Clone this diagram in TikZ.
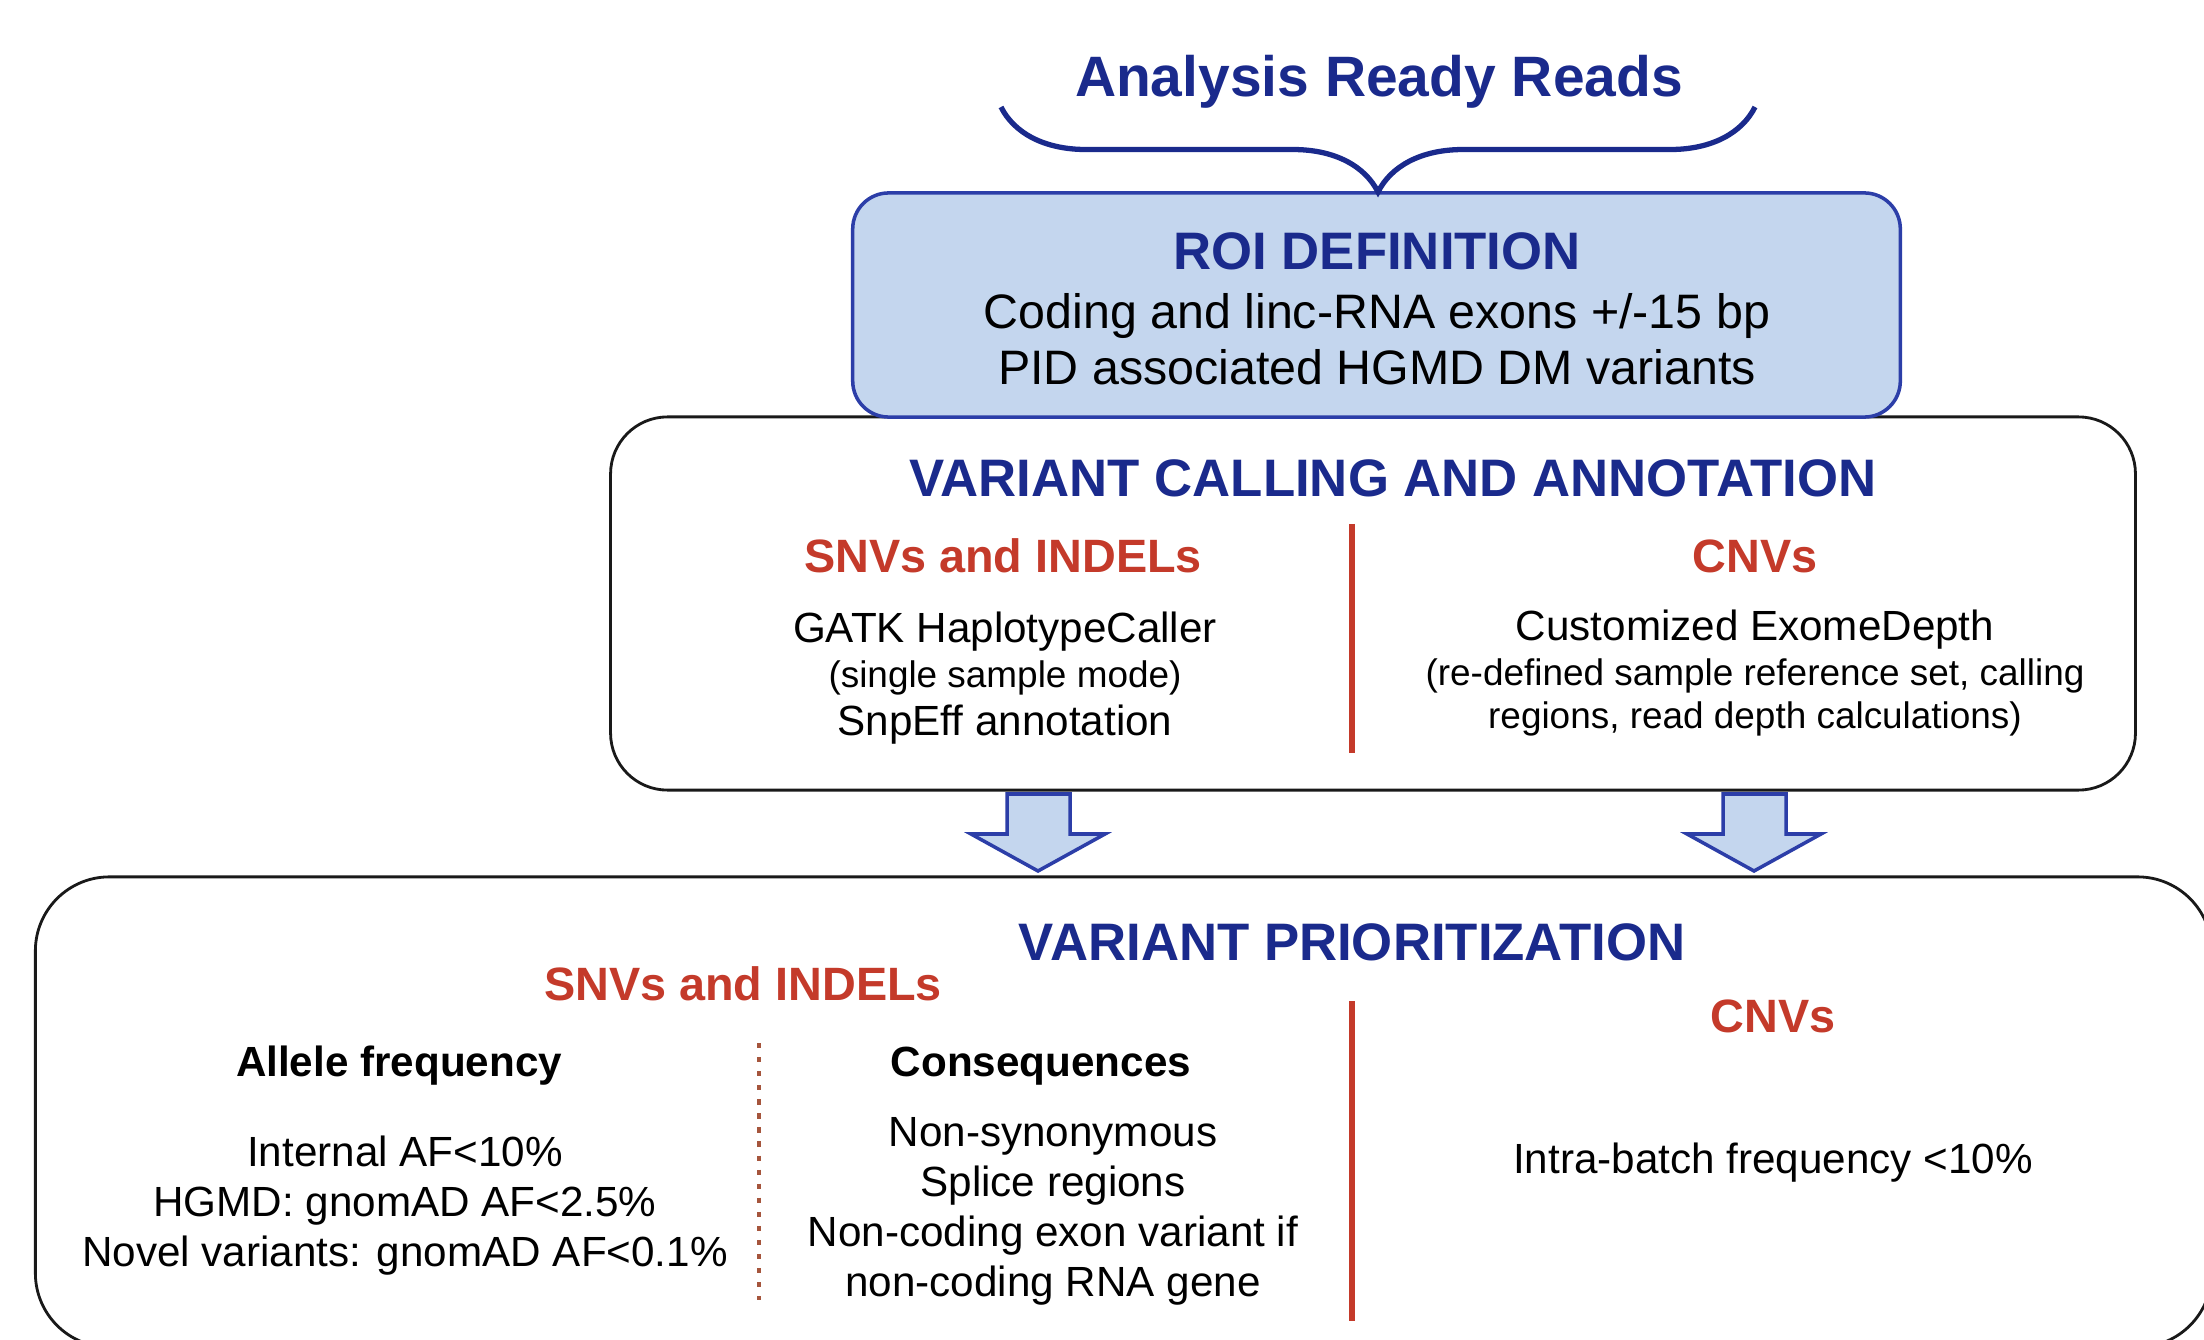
\documentclass[tikz,border=0pt]{standalone}
\usepackage{fontspec}
\setmainfont{Liberation Sans}
\usepackage{xcolor}
\usepackage{tikz}
\usetikzlibrary{positioning, calc, decorations.pathreplacing}
\definecolor{prNavy}{RGB}{26,42,140}
\definecolor{prRed}{RGB}{196,58,42}
\definecolor{prSky}{RGB}{196,214,238}
\definecolor{prBlue}{RGB}{44,62,168}
\definecolor{prDot}{RGB}{165,85,60}

\begin{document}
\begin{tikzpicture}[x=0.01cm,y=-0.01cm,
  H/.style={text=prNavy,font=\fontsize{15}{18}\selectfont\bfseries,
            inner sep=0pt,anchor=base},
  S/.style={text=prRed,font=\fontsize{13.3}{16}\selectfont\bfseries,
            inner sep=0pt,anchor=base},
  B/.style={text=black,font=\fontsize{12}{14}\selectfont\bfseries,
            inner sep=0pt,anchor=base},
  L/.style={text=black,font=\fontsize{12}{14.2}\selectfont,
            inner sep=0pt,anchor=base,align=center},
  P/.style={text=black,font=\fontsize{10.5}{12.2}\selectfont,
            inner sep=0pt,anchor=base,align=center},
  box/.style={draw=black!90,line width=0.8pt,fill=white,inner sep=0pt},
  sep/.style={draw=prRed,line width=1.7pt},
  blk/.style={draw=prBlue,line width=1pt,fill=prSky,line join=miter}]
\clip (0,0) rectangle (2204,1340);

% the three frames, bottom one runs off the page
\node[box,rounded corners=0.74cm,minimum width=21.75cm,minimum height=4.70cm]
   (prio) at (1123.5,1112) {};
\node[box,rounded corners=0.57cm,minimum width=15.24cm,minimum height=3.73cm]
   (call) at (1373,603.5) {};
\node[draw=prBlue,line width=1pt,fill=prSky,rounded corners=0.36cm,
      minimum width=10.47cm,minimum height=2.24cm,inner sep=0pt]
   (roi) at (1376.5,305) {};

% reads and the brace onto the ROI box
\node[text=prNavy,font=\fontsize{16.2}{19}\selectfont\bfseries,inner sep=0pt,
      anchor=base] (reads) at (1379,97) {Analysis Ready Reads};
\coordinate (brL) at (1001,107);
\coordinate (brR) at (1755,107);
\draw[prNavy,line width=1.5pt,decorate,
      decoration={brace,mirror,amplitude=0.85cm}] (brL) -- (brR);

% multi-line nodes sit on the baseline of their last line
\node[H] (roiT) at (1377,270) {ROI DEFINITION};
\node[L,font=\fontsize{13.75}{16.2}\selectfont] (roiL) at (1377,385)
   {Coding and linc-RNA exons +/-15 bp\\PID associated HGMD DM variants};

% variant calling
\node[H] (callT) at (1393,497) {VARIANT CALLING AND ANNOTATION};
\node[S] (snvA) at (1003,573) {SNVs and INDELs};
\node[S] (cnvA) at (1755,572) {CNVs};
\node[L] (gatk) at (1005,642) {GATK HaplotypeCaller};
\node[P] (gatkM) at (1005,687) {(single sample mode)};
\node[L] (snpeff) at (1005,735) {SnpEff annotation};
\node[L] (edepth) at (1755,640) {Customized ExomeDepth};
\node[P] (edepthM) at (1755,728)
   {(re-defined sample reference set, calling\\regions, read depth calculations)};
\draw[sep] (1352,524) -- (1352,753);

% block arrows down to prioritization
\coordinate (arA) at (1039,794);
\coordinate (arB) at (1755,794);
\draw[blk] (arA) ++(-32,0) -- ++(63,0) -- ++(0,40) -- ++(35,0) -- ++(-67,37)
   -- ++(-67,-37) -- ++(36,0) -- cycle;
\draw[blk] (arB) ++(-32,0) -- ++(63,0) -- ++(0,40) -- ++(35,0) -- ++(-67,37)
   -- ++(-67,-37) -- ++(36,0) -- cycle;

% variant prioritization
\node[H] (prioT) at (1352,960) {VARIANT PRIORITIZATION};
\node[S] (snvB) at (743,1000) {SNVs and INDELs};
\node[S] (cnvB) at (1773,1032) {CNVs};
\node[B] (afT) at (399,1076) {Allele frequency};
\node[B] (csqT) at (1041,1076) {Consequences};
\node[L] (afL) at (405,1266)
   {Internal AF<10\%\\HGMD: gnomAD AF<2.5\%\\Novel variants: gnomAD AF<0.1\%};
\node[L] (csqL) at (1053,1296)
   {Non-synonymous\\Splice regions\\Non-coding exon variant if\\non-coding RNA gene};
\node[L] (cnvL) at (1773,1173) {Intra-batch frequency <10\%};
\draw[prDot,line width=0.9pt,dash pattern=on 1.5pt off 2.5pt] (759,1043) -- (759,1300);
\draw[sep] (1352,1001) -- (1352,1321);
\end{tikzpicture}
\end{document}
